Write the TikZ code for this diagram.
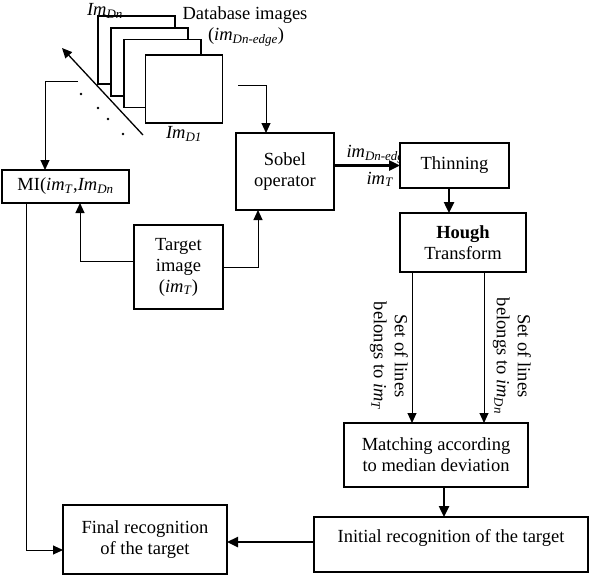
\documentclass[tikz,border=0pt]{standalone}
\usepackage{fontspec}
\setmainfont{Liberation Serif}
\usetikzlibrary{arrows.meta}
\newcommand{\imsub}[2]{\textit{#1}\textsubscript{\textit{#2}}}

\begin{document}
\begin{tikzpicture}[x=1pt, y=-1pt, font=\fontsize{18.5}{21}\selectfont,
    block/.style={draw, line width=1.3pt, fill=white, inner sep=0pt, outer sep=0pt, align=center},
    sheet/.style={draw, line width=1.3pt, fill=white, minimum width=77pt, minimum height=68pt},
    link/.style={draw, line width=1pt, -{Triangle[length=10pt, width=9pt]}},
    flow/.style={draw, line width=2.4pt, -{Triangle[length=11pt, width=10pt]}},
  ]
  \useasboundingbox (0,0) rectangle (589,576);

  % stack of database images, back to front
  \node[sheet] (dbn) at (136.5,50) {};
  \node[sheet] (dbc) at (149.5,62) {};
  \node[sheet] (dbb) at (162.5,73.5) {};
  \node[sheet] (dba) at (184,89) {};
  \node (lbltop) at (105,11) {\imsub{Im}{Dn}};
  \node (lbldb) at (245,15) {Database images};
  \node (lbledge) at (246,37) {(\imsub{im}{Dn-edge})};
  \node (lblone) at (184,134) {\imsub{Im}{D1}};

  % running index over the stack
  \coordinate (tailstack) at (143,135);
  \coordinate (tipstack) at (62,48);
  \draw[link, line width=1.3pt] (tailstack) -- (tipstack);
  \foreach \p in {(81,94),(98,108),(108,119),(123,134)}
    \fill \p circle (1.4);
  \coordinate (stackleft) at (78,81);
  \coordinate (stackright) at (238,85);

  % blocks
  \node[block, minimum width=98pt, minimum height=77pt] (sobel) at (285,171.5) {Sobel\\operator};
  \node[anchor=base west] (lbledgeb) at (343,157) {\imsub{im}{Dn-edge}};
  \node[anchor=base west] (lbltgt) at (363,184) {\imsub{im}{T}};
  \node[block, minimum width=109pt, minimum height=45pt] (thin) at (454.5,165.5) {Thinning};
  \node[block, minimum width=126pt, minimum height=59pt] (hough) at (463,242.5) {\textbf{Hough}\\Transform};
  \node[block, minimum width=184pt, minimum height=64pt] (match) at (436,455) {Matching according\\to median deviation};
  \node[block, minimum width=274pt, minimum height=55pt, text height=13pt, text depth=18pt] (init) at (451,544.5) {Initial recognition of the target};
  \node[block, minimum width=164pt, minimum height=69pt] (final) at (145,539.5) {Final recognition\\of the target};
  \node[block, minimum width=127pt, minimum height=33pt] (mi) at (65.5,186.5) {MI(\imsub{im}{T},\imsub{Im}{Dn}};
  \node[block, minimum width=89pt, minimum height=84pt] (target) at (178.5,267) {Target\\image\\(\imsub{im}{T})};

  % line sets out of the Hough transform
  \node[rotate=-90, align=center] (setT) at (389,356) {Set of lines\\belongs to \imsub{im}{T}};
  \node[rotate=-90, align=center] (setD) at (512,356) {Set of lines\\belongs to \imsub{im}{Dn}};

  % database and target inputs
  \draw[link] (stackleft) -| ([xshift=-20.5pt]mi.north);
  \draw[link] (stackright) -| ([xshift=-19pt]sobel.north);
  \draw[link] ([yshift=6pt]target.west) -| ([xshift=14.5pt]mi.south);
  \draw[link] (target.east) -| ([xshift=-27pt]sobel.south);
  \draw[link] ([xshift=-39.5pt]mi.south) |- ([yshift=-10.5pt]final.west);

  % main chain
  \draw[flow] (sobel.east |- thin.west) -- (thin.west);
  \draw[flow] ([xshift=-5.5pt]thin.south) -- ([xshift=-5.5pt]thin.south |- hough.north);
  \draw[link] ([xshift=-51pt]hough.south) -- ([xshift=-51pt]hough.south |- match.north);
  \draw[link] ([xshift=21pt]hough.south) -- ([xshift=21pt]hough.south |- match.north);
  \draw[flow] ([xshift=8pt]match.south) -- ([xshift=8pt]match.south |- init.north);
  \draw[flow] ([yshift=2.5pt]init.west) -- ([yshift=2.5pt]init.west -| final.east);
\end{tikzpicture}
\end{document}
